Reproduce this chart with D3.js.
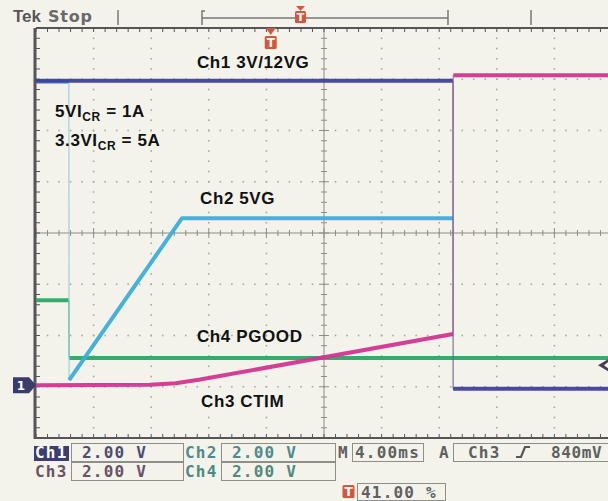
<!DOCTYPE html>
<html><head><meta charset="utf-8">
<script src="https://cdn.jsdelivr.net/npm/d3@7"></script>
<style>
html,body{margin:0;padding:0;background:#f3f3ec;}
svg{display:block;}
</style></head>
<body>
<svg id="c" width="608" height="501"></svg>
<script>
// ---- data (time in ms, level in screen divisions, 0 = centre) ----
const ch1Time  = [0, 28.95, 28.97, 40];
const ch1Level = [2.97, 2.97, -3.04, -3.04];
const ch2Time  = [0, 2.28, 2.30, 10.14, 28.96];
const ch2Level = [2.95, 2.95, -2.87, 0.29, 0.29];
const ch3Time  = [0, 7.9, 9.7, 11.4, 28.96, 28.98, 40];
const ch3Level = [-2.97, -2.96, -2.93, -2.86, -1.97, 3.08, 3.08];
const ch4Time  = [0, 2.28, 2.30, 40];
const ch4Level = [-1.31, -1.31, -2.44, -2.44];
const channels   = ["Ch1", "Ch2", "Ch3", "Ch4"];
const voltsDiv   = ["2.00 V", "2.00 V", "2.00 V", "2.00 V"];
const timebase   = "4.00ms";
const trigSource = "Ch3";
const trigLevel  = "840mV";
const trigPos    = "41.00 %";
const annotations = [
  {t: 11.18, v: 3.22, parts: [["Ch1 3V/12VG", 0]]},
  {t: 1.32, v: 2.26, parts: [["5VI", 0], ["CR", 1], [" = 1A", 0]]},
  {t: 1.32, v: 1.70, parts: [["3.3VI", 0], ["CR", 1], [" = 5A", 0]]},
  {t: 11.39, v: 0.57, parts: [["Ch2 5VG", 0]]},
  {t: 11.18, v: -2.13, parts: [["Ch4 PGOOD", 0]]},
  {t: 11.46, v: -3.40, parts: [["Ch3 CTIM", 0]]}
];

const svg = d3.select("#c");
const X0 = 36, X1 = 612, Y0 = 28, Y1 = 438;
const x = d3.scaleLinear().domain([0, 40]).range([X0, X1]);
const y = d3.scaleLinear().domain([-4, 4]).range([Y1, Y0]);

svg.append("rect").attr("width", 608).attr("height", 501).attr("fill", "#f3f3ec");

// ---- grid dots ----
const grid = svg.append("g").attr("fill", "#aaa9a2");
for (let t = 4; t < 40; t += 4) {
  if (t === 20) continue;
  d3.range(-4, 4.001, 0.2).forEach(v => {
    grid.append("rect").attr("x", x(t) - 0.8).attr("y", y(v) - 0.8).attr("width", 1.6).attr("height", 1.6);
  });
}
for (let v = -3; v <= 3; v++) {
  if (v === 0) continue;
  d3.range(0, 40.001, 0.8).forEach(t => {
    grid.append("rect").attr("x", x(t) - 0.8).attr("y", y(v) - 0.8).attr("width", 1.6).attr("height", 1.6);
  });
}

// ---- centre crosshair with minor ticks ----
const ax = svg.append("g").attr("stroke", "#8d8d88").attr("stroke-width", 1);
ax.append("line").attr("x1", X0).attr("x2", X1).attr("y1", y(0)).attr("y2", y(0));
ax.append("line").attr("x1", x(20)).attr("x2", x(20)).attr("y1", Y0).attr("y2", Y1);
d3.range(0, 40.001, 0.8).forEach(t => {
  const L = (Math.abs(t / 4 - Math.round(t / 4)) < 1e-6) ? 5 : 3;
  ax.append("line").attr("x1", x(t)).attr("x2", x(t)).attr("y1", y(0) - L).attr("y2", y(0) + L);
});
d3.range(-4, 4.001, 0.2).forEach(v => {
  const L = (Math.abs(v - Math.round(v)) < 1e-6) ? 5 : 3;
  ax.append("line").attr("x1", x(20) - L).attr("x2", x(20) + L).attr("y1", y(v)).attr("y2", y(v));
});

// ---- frame ----
const fr = svg.append("g").attr("stroke", "#55555a");
fr.append("line").attr("x1", X0).attr("x2", X1).attr("y1", Y0).attr("y2", Y0).attr("stroke-width", 2);
fr.append("line").attr("x1", X0).attr("x2", X1).attr("y1", Y1).attr("y2", Y1).attr("stroke-width", 2);
fr.append("line").attr("x1", X0 - 1).attr("x2", X0 - 1).attr("y1", Y0).attr("y2", Y1 + 1).attr("stroke-width", 3);
d3.range(0, 40.001, 0.8).forEach(t => {
  fr.append("line").attr("x1", x(t)).attr("x2", x(t)).attr("y1", Y0).attr("y2", Y0 + 4).attr("stroke-width", 1);
  fr.append("line").attr("x1", x(t)).attr("x2", x(t)).attr("y1", Y1).attr("y2", Y1 - 4).attr("stroke-width", 1);
});
d3.range(-4, 4.001, 0.2).forEach(v => {
  fr.append("line").attr("x1", X0).attr("x2", X0 + 4).attr("y1", y(v)).attr("y2", y(v)).attr("stroke-width", 1);
});

// ---- traces ----
svg.append("clipPath").attr("id", "clip").append("rect")
  .attr("x", X0).attr("y", Y0).attr("width", 608 - X0).attr("height", Y1 - Y0);
const tr = svg.append("g").attr("clip-path", "url(#clip)");
const line = d3.line().x(d => x(d[0])).y(d => y(d[1]));
function drawTrace(ts, vs, color, thinColor) {
  const pts = ts.map((t, i) => [t, vs[i]]);
  let run = [pts[0]];
  const flush = () => {
    if (run.length > 1) tr.append("path").attr("d", line(run)).attr("fill", "none")
      .attr("stroke", color).attr("stroke-width", 4).attr("stroke-linejoin", "round").attr("opacity", 0.95);
  };
  for (let i = 1; i < pts.length; i++) {
    if (pts[i][0] - pts[i - 1][0] < 0.05) {
      flush();
      tr.append("path").attr("d", line([pts[i - 1], pts[i]])).attr("fill", "none")
        .attr("stroke", thinColor || color).attr("stroke-width", 1.3).attr("opacity", 0.8);
      run = [pts[i]];
    } else run.push(pts[i]);
  }
  flush();
}
drawTrace(ch4Time, ch4Level, "#2aa866");
drawTrace(ch2Time, ch2Level, "#3caedb", "#8fcbe0");
drawTrace(ch3Time, ch3Level, "#d3348f", "#b0668f");
drawTrace(ch1Time, ch1Level, "#3e3f9b", "#6a5c8c");

// ---- annotations ----
const an = svg.append("g").attr("font-family", "Liberation Sans, Arial, sans-serif")
  .attr("font-weight", "bold").attr("fill", "#111");
annotations.forEach(a => {
  const tx = an.append("text").attr("x", x(a.t)).attr("y", y(a.v)).attr("font-size", 17).attr("letter-spacing", 0.6);
  a.parts.forEach(p => {
    const s = tx.append("tspan").text(p[0]);
    if (p[1]) s.attr("font-size", 12).attr("dy", 4);
    else if (tx.selectAll("tspan").size() > 1) s.attr("dy", -4);
  });
});

// ---- markers ----
function tMarker(g, cx, top, size) {
  g.append("rect").attr("x", cx - size / 2).attr("y", top).attr("width", size).attr("height", size + 1)
    .attr("rx", 1.5).attr("fill", "#d4573c");
  g.append("text").attr("x", cx).attr("y", top + size - 1).attr("text-anchor", "middle")
    .attr("font-family", "DejaVu Sans, sans-serif").attr("font-weight", "bold")
    .attr("font-size", size).attr("fill", "#fff").text("T");
}
const mk = svg.append("g");
mk.append("path").attr("d", `M${x(16.3) - 5},${Y0} L${x(16.3) + 5},${Y0} L${x(16.3)},${Y0 + 7} Z`).attr("fill", "#d4573c");
tMarker(mk, x(16.3), Y0 + 8, 12);
mk.append("path").attr("d", `M13,${y(-2.97) - 8} L29,${y(-2.97) - 8} L36,${y(-2.97)} L29,${y(-2.97) + 8} L13,${y(-2.97) + 8} Z`)
  .attr("fill", "#3a3c6c");
mk.append("text").attr("x", 21).attr("y", y(-2.97) + 5).attr("text-anchor", "middle").attr("fill", "#fff")
  .attr("font-family", "DejaVu Sans, sans-serif").attr("font-weight", "bold").attr("font-size", 12).text("1");
mk.append("path").attr("d", `M598,${y(-2.58)} L608,${y(-2.58) - 6} L608,${y(-2.58) - 3} L604,${y(-2.58)} L608,${y(-2.58) + 3} L608,${y(-2.58) + 6} Z`)
  .attr("fill", "#4a3f55");

// ---- header ----
const hd = svg.append("g");
hd.append("text").attr("x", 13).attr("y", 22).attr("font-family", "Liberation Sans, Arial, sans-serif")
  .attr("font-weight", "bold").attr("font-size", 17).attr("fill", "#55555a").text("Tek");
hd.append("text").attr("x", 48).attr("y", 22).attr("font-family", "DejaVu Sans, sans-serif").attr("font-weight", "bold")
  .attr("font-size", 16).attr("letter-spacing", 0.8).attr("fill", "#6a6a6a").text("Stop");
const hl = hd.append("g").attr("stroke", "#777").attr("stroke-width", 1.5).attr("fill", "none");
hl.append("line").attr("x1", 118).attr("x2", 118).attr("y1", 10).attr("y2", 25);
hl.append("path").attr("d", "M205,11 L202,11 L202,25 M202,18 L448,18 M448,10 L448,25");
hl.append("line").attr("x1", 531).attr("x2", 531).attr("y1", 10).attr("y2", 25);
hd.append("path").attr("d", "M296,6 L305,6 L300.5,11 Z").attr("fill", "#d4573c");
tMarker(hd, 300.5, 11, 11);

// ---- readout ----
const roBg = svg.append("g");
const boxes = svg.append("g").attr("fill", "none").attr("stroke", "#8f8f8a").attr("stroke-width", 1);
const ro = svg.append("g").attr("font-family", "DejaVu Sans Mono, monospace").attr("font-weight", "bold")
  .attr("font-size", 16).attr("letter-spacing", 1.2);
const chColor = ["#4d4d70", "#4f8a8c", "#6a5266", "#4f8a7e"];
const rows = [[0, 1], [2, 3]];
rows.forEach((r, ri) => {
  const yb = 443 + ri * 19;
  r.forEach((ci, k) => {
    const lx = k === 0 ? 35 : 185;
    const bx = k === 0 ? 71 : 221;
    boxes.append("rect").attr("x", bx + 0.5).attr("y", yb + 0.5).attr("width", k === 0 ? 112 : 114).attr("height", 18);
    if (ci === 0) {
      roBg.append("rect").attr("x", lx - 1).attr("y", yb + 3).attr("width", 35).attr("height", 15).attr("fill", "#3b3e6e");
    }
    ro.append("text").attr("x", lx).attr("y", yb + 15).attr("fill", ci === 0 ? "#fff" : chColor[ci]).text(channels[ci]);
    ro.append("text").attr("x", bx + 11).attr("y", yb + 15).attr("fill", chColor[ci]).text(voltsDiv[ci]);
  });
});
ro.append("text").attr("x", 338).attr("y", 458).attr("fill", "#606060").text("M");
boxes.append("rect").attr("x", 352.5).attr("y", 443.5).attr("width", 71).attr("height", 18);
ro.append("text").attr("x", 355).attr("y", 458).attr("fill", "#606060").text(timebase);
ro.append("text").attr("x", 439).attr("y", 458).attr("fill", "#606060").text("A");
boxes.append("rect").attr("x", 453.5).attr("y", 443.5).attr("width", 170).attr("height", 18);
ro.append("text").attr("x", 468).attr("y", 458).attr("fill", "#606060").text(trigSource);
svg.append("path").attr("d", "M516,457 L521,457 L525,447 L530,447").attr("fill", "none")
  .attr("stroke", "#555").attr("stroke-width", 2.2);
ro.append("text").attr("x", 551).attr("y", 458).attr("fill", "#606060").attr("letter-spacing", 0.6).text(trigLevel);
tMarker(svg.append("g"), 348.5, 485, 12);
boxes.append("rect").attr("x", 357.5).attr("y", 483.5).attr("width", 88).attr("height", 17);
ro.append("text").attr("x", 361).attr("y", 498).attr("fill", "#606060").text(trigPos);
</script>
</body></html>
